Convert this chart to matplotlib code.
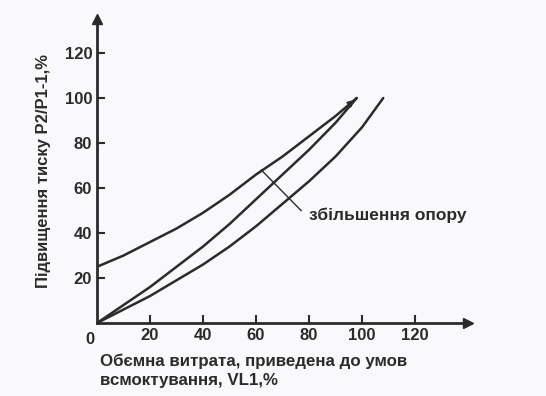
import numpy as np
import matplotlib.pyplot as plt

plt.rcParams['font.family'] = ['Liberation Sans', 'DejaVu Sans']

# curve data
upper_x = [0, 10, 20, 30, 40, 50, 60, 70, 80, 90, 98]
upper_y = [25, 30, 36, 42, 49, 57, 66, 74, 83, 92, 100]
middle_x = [0, 10, 20, 30, 40, 50, 60, 70, 80, 90, 98]
middle_y = [0, 8, 16, 25, 34, 44, 55, 66, 77, 89, 100]
lower_x = [0, 10, 20, 30, 40, 50, 60, 70, 80, 90, 100, 108]
lower_y = [0, 6, 12, 19, 26, 34, 43, 53, 63, 74, 87, 100]

x_ticks = [20, 40, 60, 80, 100, 120]
y_ticks = [20, 40, 60, 80, 100, 120]

bg = '#f9f8fb'
ink = '#2b2b2b'

fig = plt.figure(figsize=(5.46, 3.96), dpi=100, facecolor=bg)
ax = fig.add_axes([0.1777, 0.1843, 0.6795, 0.767], facecolor=bg)

for xs, ys in [(upper_x, upper_y), (middle_x, middle_y), (lower_x, lower_y)]:
    ax.plot(xs, ys, color=ink, linewidth=1.8, solid_capstyle='round')

# small arrow head where upper and middle meet
ax.annotate('', xy=(upper_x[-1], upper_y[-1]), xytext=(94, 96),
            arrowprops=dict(arrowstyle='-|>', color=ink, lw=1.2, mutation_scale=10))

# leader line to the label
ax.plot([62, 77], [68, 50], color=ink, linewidth=1.0)
ax.text(80, 48, 'збільшення опору', fontsize=12.5, fontweight='bold', color=ink,
        va='center', ha='left')

ax.set_xlim(0, 140)
ax.set_ylim(0, 135)
for s in ['top', 'right']:
    ax.spines[s].set_visible(False)
for s in ['left', 'bottom']:
    ax.spines[s].set_color(ink)
    ax.spines[s].set_linewidth(2.0)

ax.plot(1, 0, '>', color=ink, markersize=7, transform=ax.transAxes, clip_on=False)
ax.plot(0, 1, '^', color=ink, markersize=7, transform=ax.transAxes, clip_on=False)

ax.set_xticks(x_ticks)
ax.set_yticks(y_ticks)
ax.tick_params(axis='both', direction='in', length=6, width=1.5, color=ink,
               labelsize=12, labelcolor=ink)
for lab in ax.get_xticklabels() + ax.get_yticklabels():
    lab.set_fontweight('bold')
ax.text(-1, -4, '0', fontsize=12, fontweight='bold', color=ink, ha='right', va='top')

ax.set_ylabel('Підвищення тиску P2/P1-1,%', fontsize=12, fontweight='bold', color=ink,
              labelpad=10)
fig.text(0.183, 0.02, 'Обємна витрата, приведена до умов\nвсмоктування, VL1,%',
         fontsize=12.2, fontweight='bold', color=ink, ha='left', va='bottom',
         linespacing=1.35)

fig.savefig('out.png', dpi=100, facecolor=bg)
